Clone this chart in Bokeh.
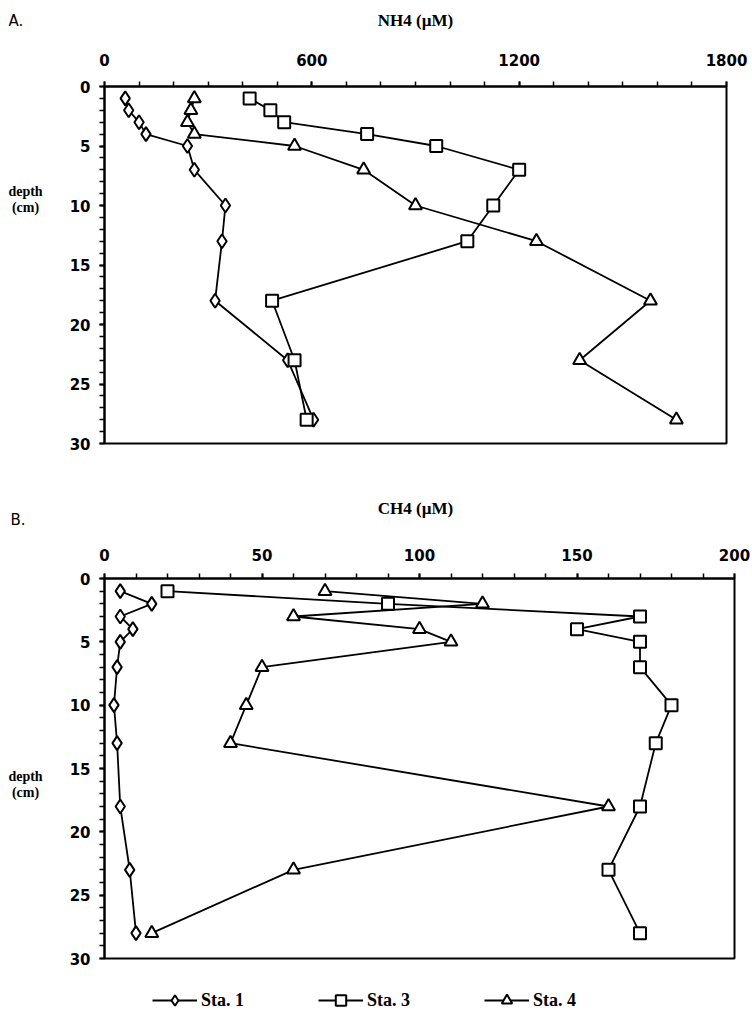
import math
from bokeh.plotting import figure
from bokeh.models import Range1d, Legend, LegendItem, FixedTicker
from bokeh.core.properties import value
from bokeh.layouts import column, row
from bokeh.embed import file_html
from bokeh.resources import INLINE

# ---------------- data ----------------
depths = [1, 2, 3, 4, 5, 7, 10, 13, 18, 23, 28]

nh4_sta1 = [60, 70, 100, 120, 240, 260, 350, 340, 320, 530, 605]
nh4_sta3 = [420, 480, 520, 760, 960, 1200, 1125, 1050, 485, 550, 585]
nh4_sta4 = [260, 250, 240, 260, 550, 750, 900, 1250, 1580, 1375, 1655]

ch4_sta1 = [5, 15, 5, 9, 5, 4, 3, 4, 5, 8, 10]
ch4_sta3 = [20, 90, 170, 150, 170, 170, 180, 175, 170, 160, 170]
ch4_sta4 = [70, 120, 60, 100, 110, 50, 45, 40, 160, 60, 15]

station_names = ["Sta. 1", "Sta. 3", "Sta. 4"]
markers = ["diamond", "square", "triangle"]
marker_sizes = [14, 12, 13]

nh4_ticks = [0, 600, 1200, 1800]
ch4_ticks = [0, 50, 100, 150, 200]
depth_ticks = [0, 5, 10, 15, 20, 25, 30]

SANS = "DejaVu Sans"
SERIF = "Liberation Serif"
W = 752
LEFT_W = 60


def bare_fig(width, height, x_range, y_range):
    f = figure(width=width, height=height, x_range=x_range, y_range=y_range,
               toolbar_location=None, output_backend="svg",
               x_axis_type=None, y_axis_type=None,
               min_border=0, min_border_left=0, min_border_right=0,
               min_border_top=0, min_border_bottom=0)
    f.xgrid.visible = False
    f.ygrid.visible = False
    f.outline_line_color = None
    f.background_fill_color = None
    f.border_fill_color = None
    return f


def put_text(f, x, y, t, font, size, style, align):
    f.text(x=[x], y=[y], text=[t], text_font=value(font), text_font_size=size,
           text_font_style=style, text_align=align, text_baseline="middle",
           text_color="black")


def header_fig(height, letter, letter_xy, title, title_xy):
    f = bare_fig(W, height, Range1d(0, W), Range1d(height, 0))
    put_text(f, letter_xy[0], letter_xy[1], letter, SANS, "15px", "normal", "left")
    put_text(f, title_xy[0], title_xy[1], title, SERIF, "17px", "bold", "center")
    return f


def style_axes(p, x_major, x_minor, standoff_x):
    xa = p.xaxis[0]
    ya = p.yaxis[0]
    xa.ticker = FixedTicker(ticks=x_major, minor_ticks=x_minor)
    ya.ticker = FixedTicker(ticks=depth_ticks, minor_ticks=list(range(0, 31)))
    for ax in (xa, ya):
        ax.axis_line_width = 2
        ax.axis_line_color = "black"
        ax.major_tick_line_width = 2
        ax.minor_tick_line_width = 1.5
        ax.major_tick_in = 0
        ax.major_tick_out = 5
        ax.minor_tick_in = 0
        ax.minor_tick_out = 5
        ax.major_label_text_font = SANS
        ax.major_label_text_font_style = "bold"
        ax.major_label_text_font_size = "15px"
        ax.major_label_text_color = "black"
    xa.major_label_standoff = standoff_x
    ya.major_label_standoff = 9
    p.xgrid.visible = False
    p.ygrid.visible = False
    p.outline_line_color = "black"
    p.outline_line_width = 2
    p.outline_line_alpha = 1


def draw_series(p, xs_list):
    for xs, mk, sz in zip(xs_list, markers, marker_sizes):
        p.line(xs, depths, line_color="black", line_width=1.8)
        p.scatter(xs, depths, marker=mk, size=sz, fill_color="white",
                  line_color="black", line_width=2)


def panel(height, x_max, y_range, top, bottom, right, x_major, x_minor, standoff_x, xs_list):
    p = figure(width=W - LEFT_W, height=height, x_axis_location="above",
               x_range=Range1d(0, x_max), y_range=y_range,
               toolbar_location=None, output_backend="svg",
               min_border_left=104 - LEFT_W, min_border_right=right,
               min_border_top=top, min_border_bottom=bottom)
    style_axes(p, x_major, x_minor, standoff_x)
    draw_series(p, xs_list)
    return p


def depth_strip(height, y_range, y1, y2):
    # frame of this strip is aligned with the panel frame, so y is in cm of depth
    f = bare_fig(LEFT_W, height, Range1d(0, LEFT_W), y_range)
    put_text(f, 25, y1, "depth", SERIF, "14px", "bold", "center")
    put_text(f, 25, y2, "(cm)", SERIF, "14px", "bold", "center")
    return f


# ---------------- panel A ----------------
HHA = 40
headA = header_fig(HHA, "A.", (8, 20), "NH4 (\u00b5M)", (415, 20))
HA = 470 - HHA
yA = Range1d(30, 0)
pA = panel(HA, 1800, yA, 86 - HHA, 27, 26, nh4_ticks, list(range(0, 1801, 100)), 16,
           [nh4_sta1, nh4_sta3, nh4_sta4])
leftA = depth_strip(HA, yA, 8.8, 10.2)

# ---------------- panel B ----------------
HHB = 60
headB = header_fig(HHB, "B.", (10, 519 - 470), "CH4 (\u00b5M)", (415, 508 - 470))
HB = 968 - 470 - HHB
yB = Range1d(30, 0)
pB = panel(HB, 200, yB, 578 - 530, 10, 18, ch4_ticks, list(range(0, 201, 10)), 13,
           [ch4_sta1, ch4_sta3, ch4_sta4])
leftB = depth_strip(HB, yB, 15.6, 16.9)

# ---------------- legend strip ----------------
HL = 1014 - 968
pL = bare_fig(W, HL, Range1d(0, W), Range1d(0, HL))
items = []
for name, mk, sz in zip(station_names, markers, marker_sizes):
    ln = pL.line(x=[math.nan], y=[math.nan], line_color="black", line_width=1.8)
    sc = pL.scatter(x=[math.nan], y=[math.nan], marker=mk, size=sz, fill_color="white",
                    line_color="black", line_width=2)
    items.append(LegendItem(label=name, renderers=[ln, sc]))
legend = Legend(items=items, orientation="horizontal", location=(152, 1),
                glyph_width=45, glyph_height=26, label_height=26, label_standoff=4,
                spacing=74, padding=0, margin=0,
                label_text_font=SERIF, label_text_font_style="bold",
                label_text_font_size="18px", label_text_color="black",
                border_line_alpha=0, background_fill_alpha=0)
pL.add_layout(legend)

layout = column(headA, row(leftA, pA, spacing=0), headB, row(leftB, pB, spacing=0), pL,
                spacing=0)
open("out.html", "w").write(file_html(layout, INLINE))
